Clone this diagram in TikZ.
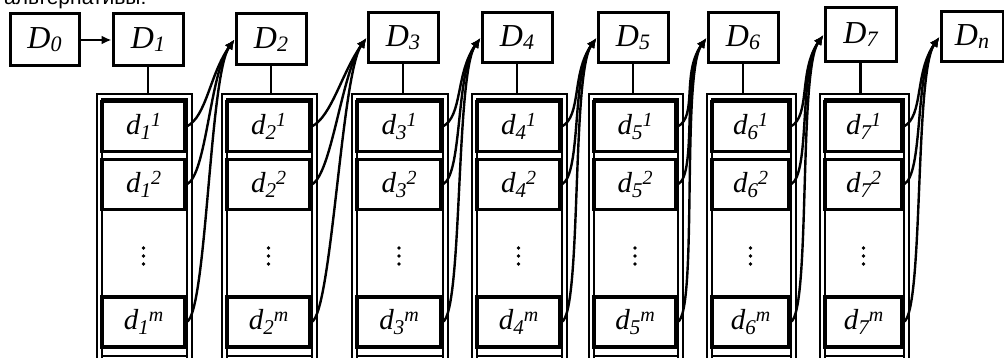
\documentclass[tikz,border=0pt]{standalone}
\usepackage{fontspec}
\setmainfont{Liberation Serif}
\newfontfamily\ruf{Liberation Sans}
\usetikzlibrary{arrows.meta}
\newcommand\lbl[3]{#1\raisebox{-5pt}{\fontsize{21}{21}\selectfont #2}\raisebox{8pt}{\fontsize{20}{20}\selectfont #3}}
\newcommand\Dlbl[2]{#1\raisebox{-3pt}{\fontsize{22}{22}\selectfont #2}}
\begin{document}
\begin{tikzpicture}[x=1pt,y=-1pt,
 Dbox/.style={draw, line width=3pt, inner sep=0pt, font=\fontsize{32}{32}\selectfont\itshape},
 dbox/.style={draw, line width=3.4pt, minimum height=50pt, inner sep=0pt, font=\fontsize{29}{29}\selectfont\itshape},
 frame/.style={draw, line width=2pt, inner sep=0pt},
 link/.style={line width=2.4pt},
 arr/.style={line width=2.4pt, -{Latex[length=10pt,width=9pt]}},
 dotm/.style={fill, circle, inner sep=0pt, minimum size=3.8pt}]
\useasboundingbox (0,0) rectangle (1004,358);
\fill[white] (0,0) rectangle (1004,358);
\node[anchor=base west, font=\ruf\fontsize{21}{21}\selectfont, inner sep=0pt] (title) at (4,5) {альтернативы:};
% top D boxes
\foreach \n/\l/\t/\r/\b/\s in {0/10/14/79/66/0, 1/113/14/183/66/1, 2/236/14/306/65/2,
  3/368/13/438/63/3, 4/482/13/552/63/4, 5/598/13/668/63/5, 6/708/13/778/63/6,
  7/825/8/896/62/7, 8/941/12/1003/62/n}
  \node[Dbox, minimum width={\r-\l}, minimum height={\b-\t}] (D\n) at ({(\l+\r)/2},{(\t+\b)/2}) {\Dlbl{D}{\s}};
\draw[arr] (D0) -- (D1);
% columns
\foreach \i/\j/\cl/\cr in {1/2/97/192, 2/3/222/317, 3/4/352/448, 4/5/472/567,
  5/6/589/683, 6/7/707/796, 7/8/820/909}{
  \node[frame, minimum width={\cr-\cl}, minimum height=278pt] (col\i) at ({(\cl+\cr)/2},233) {};
  \draw[frame] (\cl+4.5,370) -- (\cl+4.5,99) -- (\cr-5,99) -- (\cr-5,370);
  \draw[frame] (\cl+4.5,356) -- (\cr-5,356);
  \draw[link] (D\i.south) -- (D\i.south |- col\i.north);
  \node[dbox, minimum width={\cr-\cl-12}] (d\i-1) at ({(\cl+\cr)/2-1},126.5) {\lbl{d}{\i}{1}};
  \node[dbox, minimum width={\cr-\cl-12}] (d\i-2) at ({(\cl+\cr)/2-1},184.5) {\lbl{d}{\i}{2}};
  \node[dbox, minimum width={\cr-\cl-12}] (d\i-m) at ({(\cl+\cr)/2-1},322) {\lbl{d}{\i}{m}};
  \foreach \y in {248,256,264}
    \node[dotm] at ({(\cl+\cr)/2-1},\y) {};
  \foreach \k in {1,2,m}
    \draw[arr] (d\i-\k.east) .. controls +(20,-10) and +(-25,35) .. (D\j.west);
}
\end{tikzpicture}
\end{document}
